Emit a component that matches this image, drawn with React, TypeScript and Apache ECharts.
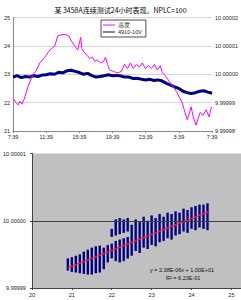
import React, { useEffect, useRef } from "react";
import * as echarts from "echarts";

const titleText = "某 3458A连续测试24小时表现。NPLC=100";
const legendTemp = "温度";
const legendVolt = "4910-10V";
const timeTickLabels = ["7:39", "11:39", "15:39", "19:39", "23:39", "3:39", "7:39"];

// top chart: temperature (°C) vs elapsed hours
const tempHours = [0, 0.36, 0.6, 0.84, 1.08, 1.32, 1.8, 2.4, 2.76, 3.24, 3.84, 4.44, 5.04, 5.4, 5.9, 6.36, 6.72, 7.08, 7.44, 7.8, 8.16, 8.3, 8.64, 9.0, 9.24, 9.6, 9.84, 10.2, 10.56, 10.92, 11.16, 11.4, 11.64, 12.12, 12.6, 13.08, 13.44, 13.8, 14.16, 14.52, 14.88, 15.24, 15.6, 15.96, 16.32, 16.68, 17.04, 17.4, 17.76, 18.0, 18.36, 18.84, 19.2, 19.68, 20.04, 20.4, 20.64, 21.0, 21.24, 21.48, 21.72, 22.08, 22.32, 22.56, 22.92, 23.28, 23.64, 23.88, 24.0];
const tempValues = [22.15, 22.0, 21.92, 22.05, 21.95, 22.1, 22.55, 23.0, 23.1, 23.4, 23.6, 23.85, 24.0, 24.35, 24.4, 24.4, 24.35, 24.15, 24.0, 23.85, 24.3, 23.9, 23.75, 23.65, 23.55, 23.6, 23.45, 23.5, 23.4, 23.45, 23.6, 23.35, 23.15, 23.1, 23.05, 23.1, 23.35, 23.2, 23.4, 23.2, 23.35, 23.25, 23.4, 23.2, 23.3, 23.2, 23.35, 23.15, 23.3, 23.05, 22.95, 22.75, 22.6, 22.4, 22.2, 22.0, 21.75, 21.4, 21.6, 21.85, 21.5, 21.2, 21.45, 21.65, 21.55, 21.75, 21.5, 21.8, 21.85];

// top chart: 4910 output (V) vs elapsed hours
const voltHours = [0, 0.5, 1, 1.5, 2, 2.5, 3, 3.5, 4, 4.5, 5, 5.5, 6, 6.5, 7, 7.5, 8, 8.5, 9, 9.5, 10, 10.5, 11, 11.5, 12, 12.5, 13, 13.5, 14, 14.5, 15, 15.5, 16, 16.5, 17, 17.5, 18, 18.5, 19, 19.5, 20, 20.5, 21, 21.5, 22, 22.5, 23, 23.5, 24];
const voltValues = [9.999999, 9.9999995, 9.9999988, 9.9999992, 9.999999, 9.9999995, 9.9999992, 9.9999997, 9.9999998, 10.0000002, 10.0, 10.0000007, 10.0000005, 10.0000012, 10.0000014, 10.000001, 10.0000006, 10.0, 10.0000003, 9.9999995, 9.999999, 9.9999992, 9.9999995, 9.9999998, 9.9999995, 9.9999996, 9.9999994, 9.999999, 9.999999, 9.9999985, 9.9999986, 9.9999982, 9.999998, 9.9999982, 9.9999978, 9.999998, 9.9999976, 9.9999968, 9.9999962, 9.9999955, 9.999995, 9.999994, 9.9999935, 9.9999932, 9.9999935, 9.999994, 9.9999942, 9.9999937, 9.9999933];

// bottom chart: spread of readings at each temperature
const colTemps = [20.9, 21.0, 21.1, 21.2, 21.3, 21.4, 21.5, 21.6, 21.7, 21.8, 21.9, 22.0, 22.0, 22.1, 22.1, 22.2, 22.2, 22.3, 22.3, 22.4, 22.4, 22.5, 22.6, 22.7, 22.8, 22.9, 23.0, 23.1, 23.2, 23.3, 23.4, 23.5, 23.6, 23.7, 23.8, 23.9, 24.0, 24.1, 24.2, 24.3, 24.4];
const colLows = [9.9999926, 9.9999924, 9.9999923, 9.9999922, 9.9999921, 9.999992, 9.999992, 9.9999922, 9.9999923, 9.9999928, 9.9999938, 9.9999944, 9.9999976, 9.999994, 9.9999978, 9.9999938, 9.999998, 9.999994, 9.9999982, 9.9999944, 9.9999984, 9.9999948, 9.9999955, 9.9999952, 9.999996, 9.9999958, 9.9999964, 9.9999962, 9.9999968, 9.999997, 9.9999974, 9.9999972, 9.9999978, 9.999998, 9.9999984, 9.9999982, 9.9999988, 9.9999986, 9.999999, 9.9999988, 9.9999986];
const colHighs = [9.9999944, 9.9999946, 9.9999948, 9.999995, 9.9999954, 9.9999957, 9.999996, 9.9999962, 9.9999963, 9.999996, 9.9999964, 9.9999966, 9.9999988, 9.999997, 10.0000002, 9.9999972, 10.0000004, 9.9999974, 10.0000002, 9.9999976, 10.0000004, 9.9999994, 10.0000002, 9.9999998, 10.0000006, 10.0, 10.0000008, 10.0000004, 10.000001, 10.0000006, 10.0000012, 10.000001, 10.0000014, 10.0000012, 10.0000018, 10.0000016, 10.000002, 10.0000022, 10.0000024, 10.0000024, 10.0000026];
const trendTemps = [20.9, 24.45];
const trendValues = [9.999993, 10.0000014];
const bottomXTicks = [20, 21, 22, 23, 24, 25];
const eqText = "y = 2.38E-06x + 1.00E+01";
const r2Text = "R² = 6.23E-01";

const NUM_FONT = "Liberation Sans, Arial, sans-serif";

export default function App() {
  const ref = useRef<HTMLDivElement>(null);
  useEffect(() => {
    if (!ref.current) return;
    const chart = echarts.init(ref.current, null, { renderer: "svg" });
    const tempData = tempHours.map((h, i) => [h, tempValues[i]]);
    const voltData = voltHours.map((h, i) => [h, voltValues[i]]);
    const colData = colTemps.map((t, i) => [t, colLows[i], colHighs[i]]);
    const trendData = trendTemps.map((t, i) => [t, trendValues[i]]);
    const lbl = { fontSize: 5.5, color: "#222", fontFamily: NUM_FONT };
    chart.setOption({
      animation: false,
      backgroundColor: "#fff",
      title: {
        text: titleText,
        left: "center",
        top: 1,
        textStyle: { fontSize: 7, fontWeight: "normal", color: "#000", fontFamily: "Noto Sans CJK SC" },
      },
      legend: {
        orient: "vertical",
        left: 101,
        top: 20,
        itemWidth: 12,
        itemHeight: 1,
        itemGap: 1,
        icon: "rect",
        padding: [2, 4, 2, 2],
        borderColor: "#000",
        borderWidth: 0.7,
        backgroundColor: "#fff",
        textStyle: { fontSize: 5.5, color: "#222", fontFamily: NUM_FONT, padding: [0, 0, 0, -2] },
        data: [legendTemp, legendVolt],
      },
      grid: [
        { left: 13, top: 17.5, width: 200, height: 113.5 },
        { left: 29.5, top: 153.5, right: 0, height: 134.5, show: true, backgroundColor: "#c0c0c0", borderWidth: 0 },
      ],
      xAxis: [
        {
          type: "value",
          gridIndex: 0,
          min: 0,
          max: 24,
          interval: 4,
          axisLine: { lineStyle: { color: "#888", width: 1 } },
          axisTick: { show: true, length: 2, lineStyle: { color: "#888" } },
          splitLine: { show: false },
          axisLabel: { ...lbl, margin: 3, formatter: (v: number) => timeTickLabels[Math.round(v / 4)] ?? "" },
        },
        {
          type: "value",
          gridIndex: 1,
          min: 20,
          max: 25.24,
          axisLine: { lineStyle: { color: "#444", width: 1 } },
          axisTick: { show: true, length: 2, customValues: bottomXTicks, lineStyle: { color: "#444" } },
          splitLine: { show: false },
          axisLabel: { ...lbl, margin: 4, customValues: bottomXTicks },
        },
      ],
      yAxis: [
        {
          type: "value",
          gridIndex: 0,
          min: 21,
          max: 25,
          interval: 1,
          axisLine: { show: true, lineStyle: { color: "#888", width: 1 } },
          axisTick: { show: false },
          splitLine: { show: true, lineStyle: { color: "#d4d4d4", width: 1 } },
          axisLabel: { ...lbl, margin: 3 },
        },
        {
          type: "value",
          gridIndex: 0,
          position: "right",
          min: 9.99998,
          max: 10.00002,
          interval: 0.00001,
          axisLine: { show: false },
          axisTick: { show: false },
          splitLine: { show: false },
          axisLabel: { ...lbl, margin: 3, formatter: (v: number) => v.toFixed(5) },
        },
        {
          type: "value",
          gridIndex: 1,
          min: 9.99999,
          max: 10.00001,
          interval: 0.00001,
          axisLine: { show: true, lineStyle: { color: "#444", width: 1 } },
          axisTick: { show: true, length: 2, lineStyle: { color: "#444" } },
          splitLine: { show: false },
          axisLabel: { ...lbl, margin: 6, formatter: (v: number) => v.toFixed(5) },
        },
      ],
      series: [
        {
          name: legendTemp,
          type: "line",
          xAxisIndex: 0,
          yAxisIndex: 0,
          data: tempData,
          showSymbol: false,
          symbol: "none",
          lineStyle: { color: "#ff00ff", width: 1 },
          itemStyle: { color: "#ff00ff" },
          z: 3,
        },
        {
          name: legendVolt,
          type: "line",
          xAxisIndex: 0,
          yAxisIndex: 1,
          data: voltData,
          showSymbol: false,
          symbol: "none",
          lineStyle: { color: "#000080", width: 3 },
          itemStyle: { color: "#000080" },
          z: 2,
        },
        {
          type: "custom",
          xAxisIndex: 1,
          yAxisIndex: 2,
          data: colData,
          encode: { x: 0, y: [1, 2] },
          renderItem: (_p: any, api: any) => {
            const t = api.value(0);
            const lo = api.coord([t, api.value(1)]);
            const hi = api.coord([t, api.value(2)]);
            return {
              type: "rect",
              shape: { x: lo[0] - 1.2, y: hi[1], width: 2.4, height: lo[1] - hi[1] },
              style: { fill: "#000080" },
            };
          },
          markLine: {
            silent: true,
            symbol: "none",
            label: { show: false },
            lineStyle: { color: "#404040", width: 1, type: "solid" },
            data: [{ yAxis: 10 }],
          },
          z: 2,
        },
        {
          type: "line",
          xAxisIndex: 1,
          yAxisIndex: 2,
          data: trendData,
          showSymbol: false,
          symbol: "none",
          lineStyle: { color: "#ff1a4a", width: 1.5 },
          z: 4,
        },
      ],
      graphic: [
        { type: "text", left: 150, top: 267, style: { text: eqText, fontSize: 5.5, fill: "#111", fontFamily: NUM_FONT } },
        { type: "text", left: 166, top: 275, style: { text: r2Text, fontSize: 5.5, fill: "#111", fontFamily: NUM_FONT } },
      ],
    });
    return () => chart.dispose();
  }, []);
  return <div ref={ref} style={{ position: "fixed", left: 0, top: 0, width: 241, height: 300 }} />;
}
